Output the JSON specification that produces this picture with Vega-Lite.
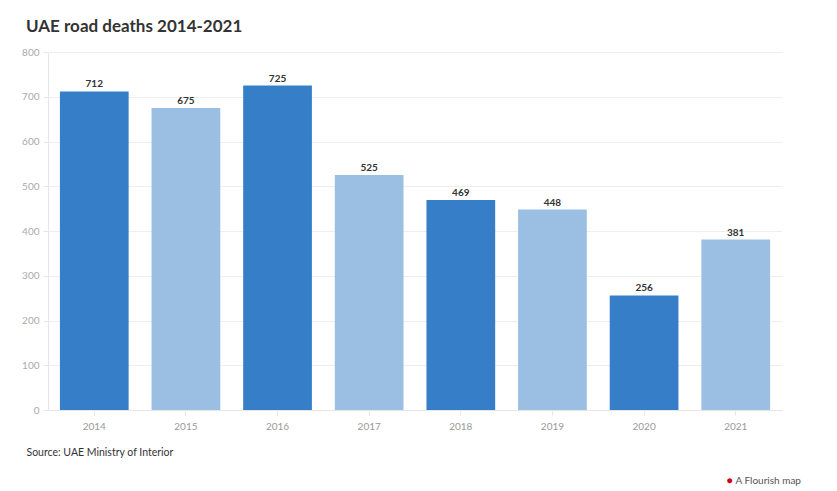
{
  "$schema": "https://vega.github.io/schema/vega-lite/v6.json",
  "width": 734,
  "height": 358,
  "autosize": {"type": "none"},
  "padding": {"left": 48, "top": 52, "right": 55, "bottom": 81},
  "background": "white",
  "title": {
    "text": "UAE road deaths 2014-2021",
    "anchor": "start",
    "frame": "group",
    "dx": -22,
    "offset": 11,
    "font": "Lato",
    "fontSize": 17,
    "fontWeight": "bold",
    "color": "#333333"
  },
  "config": {
    "view": {"stroke": null},
    "font": "Lato"
  },
  "data": {
    "values": [
      {"year": "2014", "deaths": 712, "shade": "dark"},
      {"year": "2015", "deaths": 675, "shade": "light"},
      {"year": "2016", "deaths": 725, "shade": "dark"},
      {"year": "2017", "deaths": 525, "shade": "light"},
      {"year": "2018", "deaths": 469, "shade": "dark"},
      {"year": "2019", "deaths": 448, "shade": "light"},
      {"year": "2020", "deaths": 256, "shade": "dark"},
      {"year": "2021", "deaths": 381, "shade": "light"}
    ]
  },
  "encoding": {
    "x": {
      "field": "year",
      "type": "nominal",
      "sort": null,
      "scale": {"paddingInner": 0.25, "paddingOuter": 0.13},
      "axis": {
        "title": "Source: UAE Ministry of Interior",
        "titleAnchor": "start",
        "titleAlign": "left",
        "titleBaseline": "alphabetic",
        "titleX": -22,
        "titleY": 45,
        "titleFont": "Lato",
        "titleFontSize": 10.5,
        "titleFontWeight": "normal",
        "titleColor": "#333333",
        "labelAngle": 0,
        "labelColor": "#999999",
        "labelFontSize": 10,
        "labelPadding": 6,
        "domainColor": "#e6e6e6",
        "tickColor": "#e6e6e6",
        "tickSize": 5
      }
    },
    "y": {
      "field": "deaths",
      "type": "quantitative",
      "scale": {"domain": [0, 800], "nice": false},
      "axis": {
        "values": [0, 100, 200, 300, 400, 500, 600, 700, 800],
        "title": "A Flourish map",
        "titleAngle": 0,
        "titleAlign": "left",
        "titleBaseline": "middle",
        "titleX": 687,
        "titleY": 428,
        "titleFont": "Lato",
        "titleFontSize": 10,
        "titleFontWeight": "normal",
        "titleColor": "#555555",
        "labelColor": "#aaaaaa",
        "labelFontSize": 10,
        "labelPadding": 4,
        "gridColor": "#eeeeee",
        "domainColor": "#e6e6e6",
        "tickColor": "#e6e6e6",
        "tickSize": 5
      }
    }
  },
  "layer": [
    {
      "mark": {"type": "bar"},
      "encoding": {
        "color": {
          "field": "shade",
          "type": "nominal",
          "scale": {"domain": ["dark", "light"], "range": ["#377ec9", "#9bbfe3"]},
          "legend": null
        }
      }
    },
    {
      "mark": {
        "type": "text",
        "baseline": "bottom",
        "dy": -2,
        "fontSize": 10,
        "fontWeight": "bold",
        "color": "#333333"
      },
      "encoding": {
        "text": {"field": "deaths", "type": "quantitative"},
        "y": {
          "field": "deaths",
          "type": "quantitative",
          "axis": {
            "orient": "right",
            "labels": false,
            "ticks": false,
            "domain": false,
            "grid": false,
            "title": "●",
            "titleAngle": 0,
            "titleAlign": "center",
            "titleBaseline": "middle",
            "titleX": -53,
            "titleY": 428,
            "titleFontSize": 10,
            "titleColor": "#d0021b"
          }
        }
      }
    }
  ],
  "resolve": {"axis": {"y": "independent"}}
}
